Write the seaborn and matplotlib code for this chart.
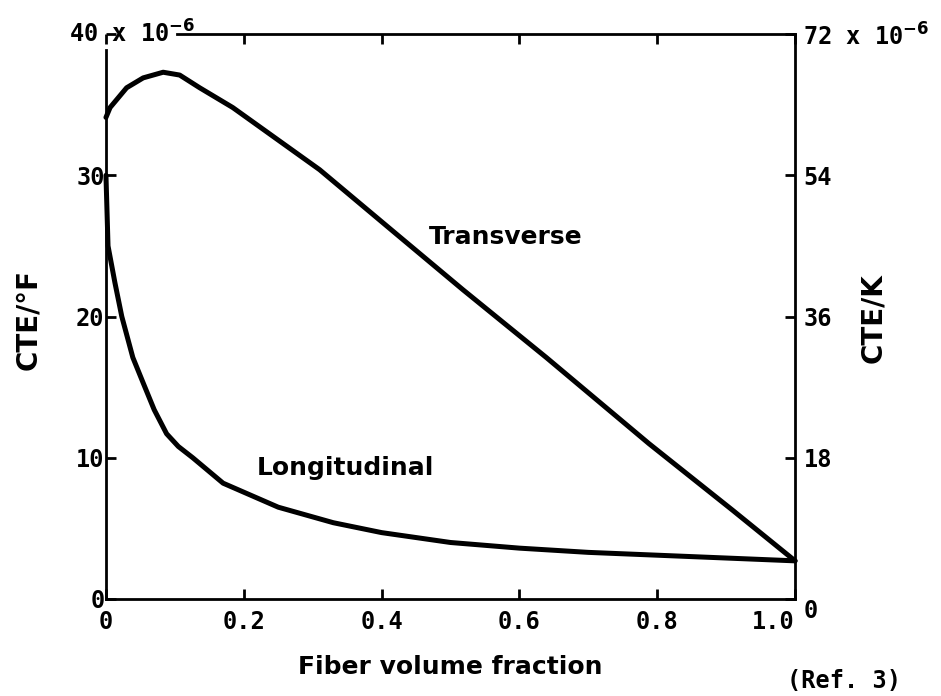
import matplotlib
matplotlib.use("Agg")
import matplotlib.pyplot as plt
import seaborn as sns

# values (CTE in 1e-6 per deg F)
frac_long = [0, 0.003, 0.013, 0.023, 0.039, 0.054, 0.07, 0.088, 0.105, 0.126,
             0.17, 0.25, 0.33, 0.4, 0.5, 0.6, 0.7, 0.8, 0.9, 1.0]
cte_long = [30.0, 25.0, 22.4, 20.0, 17.1, 15.3, 13.4, 11.7, 10.8, 10.0,
            8.2, 6.5, 5.4, 4.7, 4.0, 3.6, 3.3, 3.1, 2.9, 2.7]

frac_trans = [0, 0.006, 0.03, 0.054, 0.083, 0.107, 0.136, 0.184, 0.31, 0.42,
              0.518, 0.639, 0.788, 0.909, 1.0]
cte_trans = [34.1, 34.8, 36.2, 36.9, 37.3, 37.1, 36.2, 34.8, 30.4, 25.9,
             21.9, 17.1, 11.0, 6.3, 2.7]

x_ticks = [0, 0.2, 0.4, 0.6, 0.8, 1.0]
x_labels = ["0", "0.2", "0.4", "0.6", "0.8", "1.0"]
left_ticks = [0, 10, 20, 30, 40]
left_labels = ["0", "10", "20", "30", ""]
right_ticks = [0, 18, 36, 54, 72]
right_labels = ["0", "18", "36", "54", r"72 x 10$^{\mathbf{-6}}$"]

sns.set_style("white")
plt.rcParams["font.family"] = ["DejaVu Sans Mono", "DejaVu Sans"]
plt.rcParams["mathtext.fontset"] = "dejavusans"
plt.rcParams["text.color"] = "black"
plt.rcParams["axes.labelcolor"] = "black"
plt.rcParams["xtick.color"] = "black"
plt.rcParams["ytick.color"] = "black"

fig = plt.figure(figsize=(9.41, 6.96), dpi=100)
ax = fig.add_axes([0.1126, 0.1394, 0.7323, 0.8116])

line_kw = dict(color="black", linewidth=3.6, estimator=None, sort=False,
               clip_on=False, solid_joinstyle="round", solid_capstyle="round")
sns.lineplot(x=frac_trans, y=cte_trans, ax=ax, **line_kw)
sns.lineplot(x=frac_long, y=cte_long, ax=ax, **line_kw)

ax.set_xlim(0, 1.0)
ax.set_ylim(0, 40)
ax.set_xticks(x_ticks)
ax.set_xticklabels(x_labels)
ax.set_yticks(left_ticks)
ax.set_yticklabels(left_labels)

for s in ax.spines.values():
    s.set_linewidth(2.0)
    s.set_color("black")
ax.spines["top"].set_bounds(0.103, 1.0)
ax.spines["left"].set_bounds(0, 38.9)

ax.tick_params(axis="x", direction="in", length=7, width=2, pad=8,
               top=True, bottom=True, labelsize=17)
ax.tick_params(axis="y", direction="in", length=7, width=2, pad=1,
               left=True, right=False, labelsize=17)
for lab in ax.get_xticklabels() + ax.get_yticklabels():
    lab.set_fontweight("bold")
# the "1.0" label sits left of its tick in the original, clear of the right "0"
ax.get_xticklabels()[-1].set_horizontalalignment("right")
ax.get_xticklabels()[-1].set_x(1.01)

ax.annotate(r"40 x 10$^{\mathbf{-6}}$", xy=(0, 40), xytext=(-37, 0),
            textcoords="offset pixels", ha="left", va="center",
            annotation_clip=False, fontsize=17, fontweight="bold")

ax2 = ax.twinx()
ax2.set_ylim(0, 72)
ax2.set_yticks(right_ticks)
ax2.set_yticklabels(right_labels)
ax2.tick_params(axis="y", direction="in", length=7, width=2, pad=6,
                right=True, labelsize=17)
for lab in ax2.get_yticklabels():
    lab.set_fontweight("bold")
ax2.get_yticklabels()[0].set_verticalalignment("top")
for s in ax2.spines.values():
    s.set_visible(False)
ax2.grid(False)

label_font = dict(family=["DejaVu Sans"], fontweight="bold", fontsize=18)
fig.text(450 / 941, 1 - 667 / 696, "Fiber volume fraction",
         ha="center", va="center", **label_font)
side_font = dict(family=["DejaVu Sans"], fontweight="bold", fontsize=20)
fig.text(28 / 941, 1 - 320 / 696, "CTE/\u00b0F", rotation=90,
         ha="center", va="center", **side_font)
fig.text(873 / 941, 1 - 318 / 696, "CTE/K", rotation=90,
         ha="center", va="center", **side_font)

curve_font = dict(family=["DejaVu Sans"], fontweight="bold", fontsize=18)
ax.text(0.468, 25.6, "Transverse", ha="left", va="center", **curve_font)
ax.text(0.219, 9.3, "Longitudinal", ha="left", va="center", **curve_font)

fig.text(787 / 941, 1 - 681 / 696, "(Ref. 3)", ha="left", va="center",
         fontsize=17, fontweight="bold")

fig.savefig("out.png", dpi=100)
